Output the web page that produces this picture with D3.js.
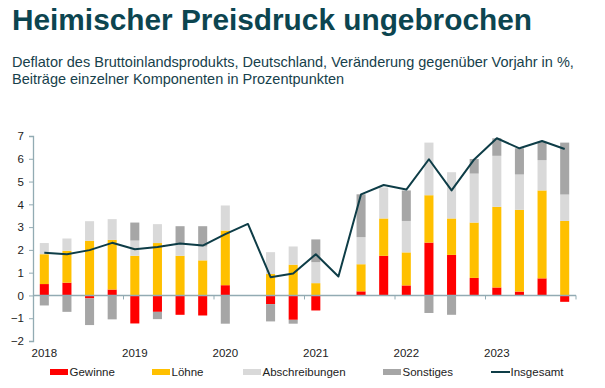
<!DOCTYPE html>
<html><head><meta charset="utf-8">
<script src="https://cdn.jsdelivr.net/npm/d3@7"></script>
<style>
html,body{margin:0;padding:0;background:#fff;}
svg{display:block;font-family:Arial,"Liberation Sans",sans-serif;}
</style></head>
<body><svg id="chart" width="605" height="388"></svg>
<script>
const quarters = ["2018Q1","2018Q2","2018Q3","2018Q4","2019Q1","2019Q2","2019Q3","2019Q4",
  "2020Q1","2020Q2","2020Q3","2020Q4","2021Q1","2021Q2","2021Q3","2021Q4",
  "2022Q1","2022Q2","2022Q3","2022Q4","2023Q1","2023Q2","2023Q3","2023Q4"];
const yearLabels = ["2018","2019","2020","2021","2022","2023"];
const gewinne = [0.50,0.56,-0.13,0.26,-1.23,-0.72,-0.85,-0.88,0.45,null,-0.38,-1.07,-0.66,null,0.18,1.74,0.44,2.32,1.78,0.77,0.35,0.17,0.75,-0.28];
const loehne = [1.31,1.40,2.40,2.18,1.74,2.30,1.74,1.54,2.40,null,0.94,1.35,0.54,null,1.19,1.64,1.45,2.08,1.60,2.43,3.54,3.59,3.86,3.27];
const abschreibungen = [0.49,0.54,0.86,0.91,0.67,0.83,0.51,0.61,1.10,null,0.96,0.80,0.92,null,1.19,1.36,1.38,2.31,2.03,2.15,2.24,1.55,1.33,1.16];
const sonstiges = [-0.44,-0.72,-1.17,-1.05,0.79,-0.32,0.79,0.89,-1.24,null,-0.76,-0.17,1.00,null,1.88,0,1.34,-0.77,-0.85,0.64,0.77,1.15,0.81,2.28];
const insgesamt = [1.87,1.81,1.99,2.31,2.03,2.13,2.28,2.19,2.69,3.14,0.80,0.96,1.81,0.83,4.44,4.85,4.65,5.98,4.61,5.97,6.90,6.46,6.78,6.43];
const yTicks = [-2,-1,0,1,2,3,4,5,6,7];

const seriesNames = ["Gewinne","Löhne","Abschreibungen","Sonstiges"];
const seriesData = [gewinne, loehne, abschreibungen, sonstiges];
const colors = ["#ff0000","#ffc000","#d9d9d9","#a6a6a6"];
const lineColor = "#0e3d47";
const axisColor = "#92abb3";

const svg = d3.select("#chart");

// Title & subtitle
svg.append("text").attr("x",12).attr("y",30)
  .attr("font-size",29.8).attr("font-weight","bold").attr("fill","#0c4550")
  .text("Heimischer Preisdruck ungebrochen");
svg.append("text").attr("x",12).attr("y",67)
  .attr("font-size",14.5).attr("fill","#17414b")
  .text("Deflator des Bruttoinlandsprodukts, Deutschland, Veränderung gegenüber Vorjahr in %,");
svg.append("text").attr("x",12).attr("y",83.5)
  .attr("font-size",14.5).attr("fill","#17414b")
  .text("Beiträge einzelner Komponenten in Prozentpunkten");

const x = d3.scaleBand().domain(quarters).range([33,576]).paddingInner(0.6).paddingOuter(0.3);
const y = d3.scaleLinear().domain([-2,7]).range([341,136]);

// table
const table = quarters.map((q,i)=>{
  const o = {q};
  seriesNames.forEach((s,j)=>{ o[s] = seriesData[j][i] == null ? 0 : seriesData[j][i]; });
  return o;
});
const stack = d3.stack().keys(seriesNames).offset(d3.stackOffsetDiverging);
const stacked = stack(table);

const gBars = svg.append("g");
stacked.forEach((layer,j)=>{
  gBars.append("g").attr("fill",colors[j])
    .selectAll("rect").data(layer.filter(d=>d[1]!==d[0])).join("rect")
    .attr("x",d=>x(d.data.q))
    .attr("width",x.bandwidth())
    .attr("y",d=>y(Math.max(d[0],d[1])))
    .attr("height",d=>Math.abs(y(d[0])-y(d[1])));
});

// Y axis
const yAxis = d3.axisLeft(y).tickValues(yTicks).tickSize(4).tickFormat(d3.format("d"));
const gy = svg.append("g").attr("transform","translate(33,0)").call(yAxis);
gy.select(".domain").attr("stroke",axisColor).attr("stroke-width",1.3);
gy.selectAll(".tick line").attr("stroke",axisColor);
gy.selectAll(".tick text").attr("font-size",11.5).attr("fill","#222").attr("x",-9)
  .attr("font-family","Arial, 'Liberation Sans', sans-serif");

// Zero line x axis with year ticks
const yearTickPos = d3.range(0,25,4).map(i=>33 + i*(543/24));
svg.append("line").attr("x1",33).attr("x2",576).attr("y1",y(0)).attr("y2",y(0))
  .attr("stroke",axisColor).attr("stroke-width",1.5);
svg.append("g").selectAll("line").data(yearTickPos.slice(1)).join("line")
  .attr("x1",d=>d).attr("x2",d=>d).attr("y1",y(0)).attr("y2",y(0)+4)
  .attr("stroke",axisColor).attr("stroke-width",1);

// Year labels
svg.append("g").selectAll("text").data(yearLabels).join("text")
  .attr("x",(d)=>x(d+"Q1")+x.bandwidth()/2)
  .attr("y",357).attr("text-anchor","middle").attr("font-size",11.5).attr("fill","#222")
  .text(d=>d);

// Total line
const line = d3.line().x((d,i)=>x(quarters[i])+x.bandwidth()/2).y(d=>y(d));
svg.append("path").datum(insgesamt).attr("d",line)
  .attr("fill","none").attr("stroke",lineColor).attr("stroke-width",2).attr("stroke-linejoin","round");

// Legend
const legendItems = [
  {name:"Gewinne", x:50, type:"rect", color:colors[0]},
  {name:"Löhne", x:152, type:"rect", color:colors[1]},
  {name:"Abschreibungen", x:243, type:"rect", color:colors[2]},
  {name:"Sonstiges", x:383, type:"rect", color:colors[3]},
  {name:"Insgesamt", x:491, type:"line", color:lineColor}
];
const gl = svg.append("g");
legendItems.forEach(it=>{
  if(it.type==="rect"){
    gl.append("rect").attr("x",it.x).attr("y",369).attr("width",18).attr("height",6).attr("fill",it.color);
  } else {
    gl.append("line").attr("x1",it.x).attr("x2",it.x+19).attr("y1",372).attr("y2",372)
      .attr("stroke",it.color).attr("stroke-width",2);
  }
  gl.append("text").attr("x",it.x+19.5).attr("y",376).attr("font-size",11.5).attr("fill","#222").text(it.name);
});
</script>
</body></html>
